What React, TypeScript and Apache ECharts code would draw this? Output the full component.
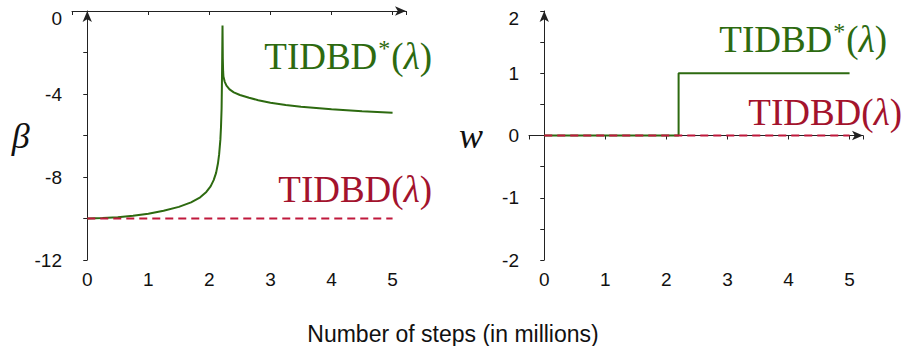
import React, { useEffect, useRef } from 'react';
import * as echarts from 'echarts';

// ---- data ----
const xTickLabels = [0, 1, 2, 3, 4, 5];
const betaTickLabels = [-12, -8, -4, 0];
const wTickLabels = [-2, -1, 0, 1, 2];

// TIDBD*(λ) beta trajectory
const betaStarX = [0, 0.25, 0.5, 0.75, 1.0, 1.25, 1.5, 1.7, 1.85, 1.95, 2.02, 2.07, 2.11, 2.14, 2.16, 2.18, 2.19, 2.2, 2.205, 2.21, 2.215, 2.22, 2.225, 2.23, 2.25, 2.28, 2.33, 2.4, 2.5, 2.65, 2.8, 3.0, 3.25, 3.5, 4.0, 4.5, 5.0];
const betaStarY = [-10.0, -9.98, -9.94, -9.87, -9.77, -9.63, -9.44, -9.22, -8.98, -8.72, -8.45, -8.15, -7.8, -7.35, -6.9, -6.2, -5.6, -4.7, -3.6, -2.2, -0.7, -2.3, -2.9, -3.15, -3.4, -3.6, -3.78, -3.92, -4.05, -4.18, -4.3, -4.42, -4.53, -4.62, -4.74, -4.83, -4.9];
// TIDBD(λ) beta (constant)
const betaBaseX = [0, 5];
const betaBaseY = [-10, -10];

// weight trajectories
const wStarX = [0, 2.2, 2.2, 5];
const wStarY = [0, 0, 1, 1];
const wBaseX = [0, 5];
const wBaseY = [0, 0];

const xTitle = 'Number of steps (in millions)';

const GREEN = '#2d6a10';
const RED_LINE = '#c0193c';
const RED_TEXT = '#a3132d';
const AXIS = '#222';

const zip = (xs: number[], ys: number[]) => xs.map((x, i) => [x, ys[i]]);
const near = (list: number[], v: number) => list.some((t) => Math.abs(t - v) < 1e-6);

const richStar = (color: string) => ({
  text: '{a|TIDBD}{s|*}{a|(}{i|λ}{a|)}',
  fill: color,
  align: 'right',
  verticalAlign: 'middle',
  rich: {
    a: { fontFamily: 'Liberation Serif', fontSize: 37, fill: color, lineHeight: 40 },
    i: { fontFamily: 'Liberation Serif', fontStyle: 'italic', fontSize: 37, fill: color, lineHeight: 40 },
    s: { fontFamily: 'Liberation Serif', fontSize: 24, fill: color, lineHeight: 40, verticalAlign: 'top', padding: [0, 1, 14, 1] },
  },
});
const richBase = (color: string) => ({
  text: '{a|TIDBD(}{i|λ}{a|)}',
  fill: color,
  align: 'right',
  verticalAlign: 'middle',
  rich: {
    a: { fontFamily: 'Liberation Serif', fontSize: 37, fill: color, lineHeight: 40 },
    i: { fontFamily: 'Liberation Serif', fontStyle: 'italic', fontSize: 37, fill: color, lineHeight: 40 },
  },
});

export default function App() {
  const ref = useRef<HTMLDivElement>(null);
  useEffect(() => {
    if (!ref.current) return;
    const chart = echarts.init(ref.current, undefined, { renderer: 'svg' });
    const labelStyle = { fontSize: 19, color: '#111', fontFamily: 'Liberation Sans' };
    const xAxisBase = (gridIndex: number) => ({
      type: 'value',
      gridIndex,
      min: -0.25,
      max: 5.22,
      splitLine: { show: false },
      axisLine: { show: true, symbol: ['none', 'arrow'], symbolSize: [7, 11], lineStyle: { color: AXIS, width: 1 } },
      axisTick: { show: true, length: 4, lineStyle: { color: AXIS } },
      axisLabel: {
        margin: 10,
        ...labelStyle,
        formatter: (v: number) => (near(xTickLabels, v) ? String(Math.round(v)) : ''),
      },
    });
    const yAxisBase = (gridIndex: number, min: number, max: number, interval: number, ticks: number[], name: string, gap: number) => ({
      type: 'value',
      gridIndex,
      min,
      max,
      interval,
      name,
      nameLocation: 'middle',
      nameRotate: 0,
      nameGap: gap,
      nameTextStyle: { fontFamily: 'Liberation Serif', fontStyle: 'italic', fontSize: 36, color: '#111' },
      splitLine: { show: false },
      axisLine: { show: true, symbol: ['none', 'arrow'], symbolSize: [7, 11], lineStyle: { color: AXIS, width: 1 } },
      axisTick: { show: true, length: 4, lineStyle: { color: AXIS } },
      axisLabel: {
        margin: 10,
        ...labelStyle,
        rich: { t: { ...labelStyle, padding: [15, 0, 0, 0] } },
        formatter: (v: number) => {
          if (!near(ticks, v)) return '';
          const s = String(Math.round(v));
          return Math.abs(v - max) < 1e-6 ? '{t|' + s + '}' : s;
        },
      },
    });
    chart.setOption({
      animation: false,
      backgroundColor: '#fff',
      title: {
        text: xTitle,
        left: 'center',
        top: 322,
        padding: 0,
        textStyle: { fontFamily: 'Liberation Sans', fontSize: 23, fontWeight: 'normal', color: '#111' },
      },
      grid: [
        { left: 72, top: 11, width: 334, height: 249 },
        { left: 529, top: 11, width: 334, height: 249 },
      ],
      xAxis: [xAxisBase(0), xAxisBase(1)],
      yAxis: [
        yAxisBase(0, -12, 0, 2, betaTickLabels, 'β', 42),
        yAxisBase(1, -2, 2, 0.5, wTickLabels, 'w', 46),
      ],
      series: [
        {
          type: 'line', xAxisIndex: 0, yAxisIndex: 0, showSymbol: false, data: zip(betaStarX, betaStarY),
          lineStyle: { color: GREEN, width: 2 }, z: 2,
        },
        {
          type: 'line', xAxisIndex: 0, yAxisIndex: 0, showSymbol: false, data: zip(betaBaseX, betaBaseY),
          lineStyle: { color: RED_LINE, width: 2, type: [8, 5] }, z: 3,
        },
        {
          type: 'line', xAxisIndex: 1, yAxisIndex: 1, showSymbol: false, data: zip(wStarX, wStarY),
          lineStyle: { color: GREEN, width: 2 }, z: 2,
        },
        {
          type: 'line', xAxisIndex: 1, yAxisIndex: 1, showSymbol: false, data: zip(wBaseX, wBaseY),
          lineStyle: { color: RED_LINE, width: 2, type: [8, 5] }, z: 3,
        },
      ],
      graphic: [
        { type: 'text', x: 432, y: 56, style: richStar(GREEN) },
        { type: 'text', x: 432, y: 189, style: richBase(RED_TEXT) },
        { type: 'text', x: 887, y: 39, style: richStar(GREEN) },
        { type: 'text', x: 902, y: 112, style: richBase(RED_TEXT) },
      ],
    });
    return () => chart.dispose();
  }, []);
  return <div ref={ref} style={{ position: 'absolute', left: 0, top: 0, width: 906, height: 346 }} />;
}
